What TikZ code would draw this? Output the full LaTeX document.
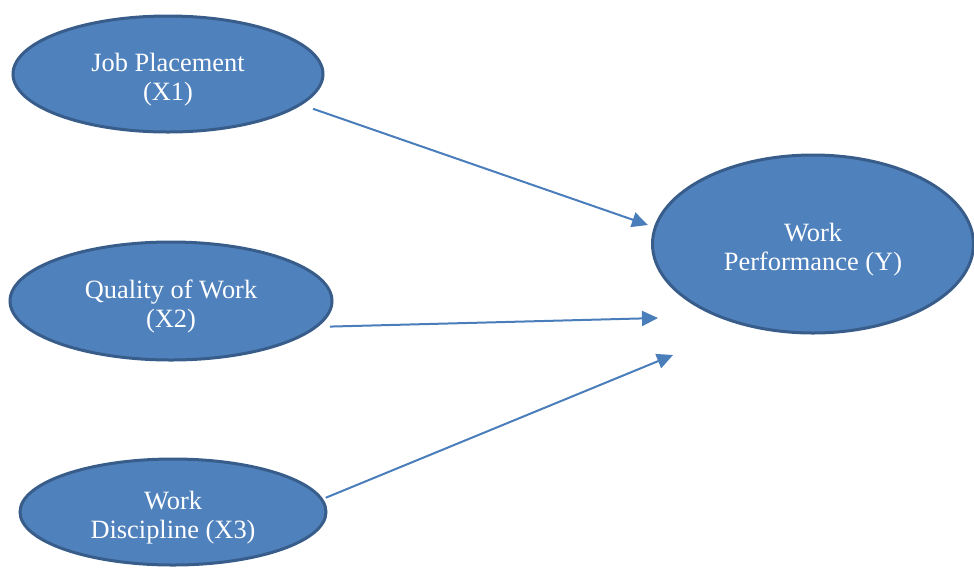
\documentclass[tikz,border=0pt]{standalone}
\usepackage{fontspec}
\setmainfont{Liberation Serif}
\usepackage{tikz}
\usetikzlibrary{shapes.geometric}
\usetikzlibrary{arrows.meta}

\definecolor{ovalblue}{HTML}{4F81BD}
\definecolor{ovalrim}{HTML}{385D8A}
\definecolor{linkblue}{HTML}{4A7EBB}

\begin{document}
\begin{tikzpicture}[x=0.5pt,y=-0.5pt,
    oval/.style={ellipse,draw=ovalrim,line width=1.5pt,fill=ovalblue,
      inner sep=0pt,text=white,align=center,text height=29pt,
      font=\fontsize{13.2}{14.5}\selectfont},
    link/.style={draw=linkblue,line width=1pt,
      -{Triangle[length=8pt,width=7.5pt]}}]
  \useasboundingbox
    (0,0)
    rectangle
    (974,569);
  \node[oval,minimum width=155pt,minimum height=58pt]
    (jp) at (168,74)
    {Job Placement\\(X1)};
  \node[oval,minimum width=161pt,minimum height=59pt]
    (qw) at (171,301)
    {Quality of Work\\(X2)};
  \node[oval,minimum width=153pt,minimum height=53pt]
    (wd) at (173,512)
    {Work\\Discipline (X3)};
  \node[oval,minimum width=160.5pt,minimum height=89pt]
    (wp) at (813,244)
    {Work\\Performance (Y)};
  \coordinate (tipa) at (648,225);
  \coordinate (tipb) at (658,318);
  \coordinate (tipc) at (673,355);
  \draw[link,shorten <=6pt]
    (jp.-13)
    --
    (tipa);
  \draw[link,shorten <=6pt]
    (qw.-10)
    --
    (tipb);
  \draw[link,shorten <=1.5pt]
    (wd.5)
    --
    (tipc);
\end{tikzpicture}
\end{document}
